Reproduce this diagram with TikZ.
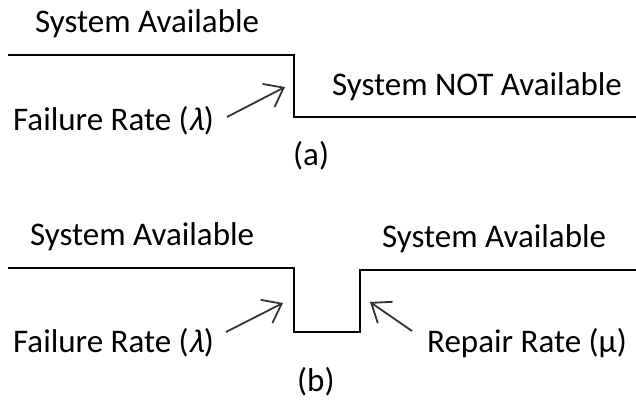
\documentclass[tikz,border=0pt]{standalone}
\usepackage{fontspec}
\setmainfont{Carlito}
\newfontfamily\slantgreek[FakeSlant=0.25]{Carlito}
\usetikzlibrary{arrows.meta}

\begin{document}
\begin{tikzpicture}[x=1pt, y=-1pt,
    lbl/.style={inner sep=0pt, anchor=base west, font=\fontsize{33}{40}\selectfont},
    wave/.style={line width=1.6pt},
    pointer/.style={line width=1.8pt, draw=black!80,
      -{Straight Barb[length=17pt,width=26pt,line width=1.8pt]}}]
      \useasboundingbox (0,0) rectangle (636,403);
      % (a) failure only
      \node[lbl] (sysA) at (35,33) {System Available};
      \node[lbl] (notA) at (332,96) {System NOT Available};
      \node[lbl] (failA) at (13,131) {Failure Rate ({\slantgreek λ})};
      \node[lbl] (capA) at (293,166) {(a)};
      \coordinate (a0) at (8,55);
      \coordinate (a1) at (294,55);
      \coordinate (a2) at (294,117);
      \coordinate (a3) at (636,117);
      \draw[wave] (a0) -- (a1) -- (a2) -- (a3);
      \coordinate (failAtail) at (227,117);
      \coordinate (failAtip) at (285,87);
      \draw[pointer] (failAtail) -- (failAtip);
      % (b) failure and repair
      \node[lbl] (sysBl) at (30,245) {System Available};
      \node[lbl] (sysBr) at (382,247) {System Available};
      \node[lbl] (failB) at (13,352) {Failure Rate ({\slantgreek λ})};
      \node[lbl] (repB) at (427,352) {Repair Rate (µ)};
      \node[lbl] (capB) at (297,391) {(b)};
      \coordinate (b0) at (8,268);
      \coordinate (b1) at (294,268);
      \coordinate (b2) at (294,332);
      \coordinate (b3) at (360,332);
      \coordinate (b4) at (360,270);
      \coordinate (b5) at (636,270);
      \draw[wave] (b0) -- (b1) -- (b2) -- (b3) -- (b4) -- (b5);
      \coordinate (failBtail) at (226,332);
      \coordinate (failBtip) at (283,303);
      \draw[pointer] (failBtail) -- (failBtip);
      \coordinate (repBtail) at (412,331);
      \coordinate (repBtip) at (370,302);
      \draw[pointer] (repBtail) -- (repBtip);
\end{tikzpicture}
\end{document}
